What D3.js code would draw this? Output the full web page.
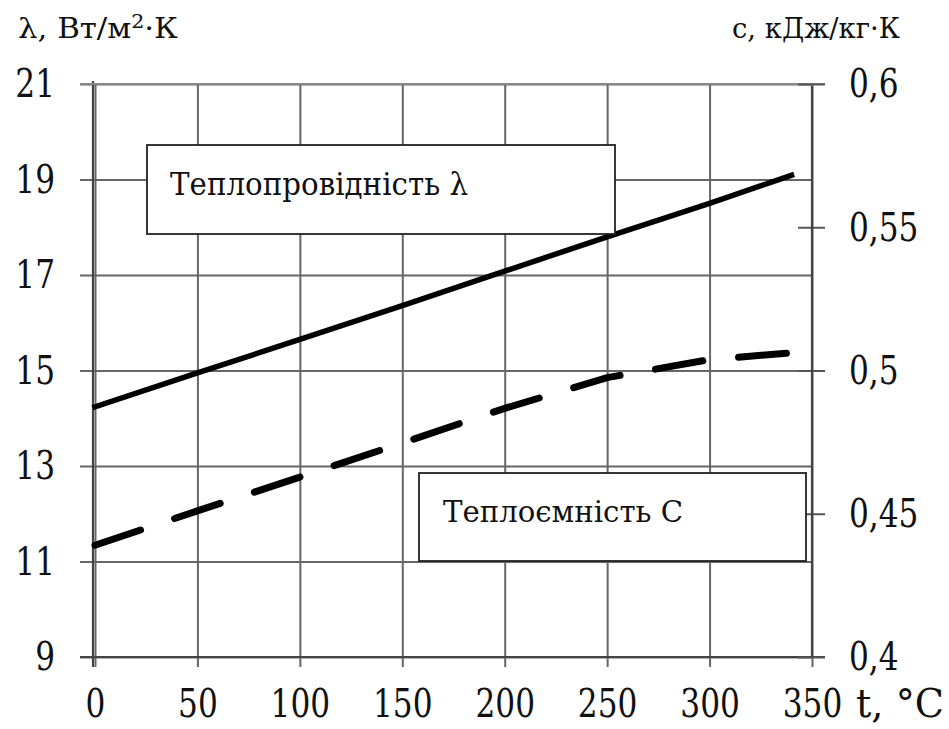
<!DOCTYPE html>
<html>
<head>
<meta charset="utf-8">
<script src="https://cdn.jsdelivr.net/npm/d3@7"></script>
<style>
  body { margin: 0; background: #fff; }
  svg text { font-family: "DejaVu Serif", "Liberation Serif", "Noto Serif", serif; }
</style>
</head>
<body>
<div id="chart"></div>
<script>
// data
const temps = [0, 50, 100, 150, 200, 250, 300, 340];
const lambdaVals = [14.24, 14.95, 15.65, 16.36, 17.08, 17.8, 18.5, 19.09];
const heatCapVals = [0.439, 0.451, 0.4628, 0.4747, 0.4868, 0.4975, 0.5038, 0.5062];
const xTicks = [0, 50, 100, 150, 200, 250, 300, 350];
const leftTicks = [9, 11, 13, 15, 17, 19, 21];
const rightTicks = [0.4, 0.45, 0.5, 0.55, 0.6];

const width = 949, height = 729;
const plot = { left: 95, right: 812, top: 84, bottom: 657 };

// DejaVu Serif is wide, so squeeze text horizontally to look like Times
const squeeze = (sel, k) => {
    sel.each(function () {
        const w = this.getComputedTextLength();
        d3.select(this)
            .attr("textLength", w * k)
            .attr("lengthAdjust", "spacingAndGlyphs");
    });
};

const svg = d3.select("#chart")
    .append("svg")
    .attr("width", width)
    .attr("height", height);

const x = d3.scaleLinear().domain([0, 350]).range([plot.left, plot.right]);
const yL = d3.scaleLinear().domain([9, 21]).range([plot.bottom, plot.top]);
const yR = d3.scaleLinear().domain([0.4, 0.6]).range([plot.bottom, plot.top]);

// vertical grid + bottom labels
const xAxis = svg.append("g")
    .attr("transform", "translate(0," + (plot.bottom + 10) + ")")
    .call(d3.axisBottom(x)
        .tickValues(xTicks)
        .tickSize(-(plot.bottom + 10 - plot.top))
        .tickPadding(22)
        .tickFormat(d3.format("d")));
xAxis.select(".domain").remove();
xAxis.selectAll("line").attr("stroke", "#666").attr("stroke-width", 2);

// horizontal grid + left labels
const leftX = 80;
const yAxis = svg.append("g")
    .attr("transform", "translate(" + leftX + ",0)")
    .call(d3.axisLeft(yL)
        .tickValues(leftTicks)
        .tickSize(-(plot.right - leftX))
        .tickPadding(25));
yAxis.select(".domain").remove();
yAxis.selectAll("line").attr("stroke", "#666").attr("stroke-width", 2);

// axis lines
svg.append("line")
    .attr("x1", x(0) - 2).attr("x2", x(0) - 2)
    .attr("y1", yL(21) - 3).attr("y2", plot.bottom + 10)
    .attr("stroke", "#444").attr("stroke-width", 2.2);
svg.append("line")
    .attr("x1", leftX).attr("x2", plot.right + 13)
    .attr("y1", yL(9)).attr("y2", yL(9))
    .attr("stroke", "#444").attr("stroke-width", 2.2);
svg.append("line")
    .attr("x1", leftX).attr("x2", plot.right + 13)
    .attr("y1", yL(21)).attr("y2", yL(21))
    .attr("stroke", "#888").attr("stroke-width", 2.2);

// right axis
const rAxis = svg.append("g")
    .attr("transform", "translate(" + (plot.right - 14) + ",0)")
    .call(d3.axisRight(yR)
        .tickValues(rightTicks)
        .tickSize(27)
        .tickPadding(24)
        .tickFormat(d => String(d).replace(".", ",")));
rAxis.select(".domain").remove();
rAxis.selectAll("line").attr("stroke", "#555").attr("stroke-width", 2);
svg.append("line")
    .attr("x1", plot.right).attr("x2", plot.right)
    .attr("y1", yR(0.6) + 2).attr("y2", yR(0.4))
    .attr("stroke", "#444").attr("stroke-width", 2.2);

const tickTexts = svg.selectAll(".tick text")
    .attr("fill", "#111")
    .style("font-size", "40px");
squeeze(tickTexts, 0.78);

// series
const lambdaLine = d3.line()
    .x((d, i) => x(temps[i]))
    .y(d => yL(d));
svg.append("path")
    .datum(lambdaVals)
    .attr("fill", "none")
    .attr("stroke", "#000")
    .attr("stroke-width", 5.5)
    .attr("stroke-linecap", "square")
    .attr("d", lambdaLine);

const heatLine = d3.line()
    .x((d, i) => x(temps[i]))
    .y(d => yR(d));
svg.append("path")
    .datum(heatCapVals)
    .attr("fill", "none")
    .attr("stroke", "#000")
    .attr("stroke-width", 7)
    .attr("stroke-linecap", "round")
    .attr("stroke-dasharray", "48 36")
    .attr("d", heatLine);

// label boxes
svg.append("rect")
    .attr("x", 147).attr("y", 145).attr("width", 468).attr("height", 89)
    .attr("fill", "#fff").attr("stroke", "#222").attr("stroke-width", 1.8);
svg.append("text")
    .attr("x", 170).attr("y", 195)
    .style("font-size", "32px").attr("fill", "#111")
    .attr("textLength", 298).attr("lengthAdjust", "spacingAndGlyphs")
    .text("Теплопровідність λ");

svg.append("rect")
    .attr("x", 419).attr("y", 473).attr("width", 387).attr("height", 88)
    .attr("fill", "#fff").attr("stroke", "#222").attr("stroke-width", 1.8);
svg.append("text")
    .attr("x", 443).attr("y", 522)
    .style("font-size", "30px").attr("fill", "#111")
    .attr("textLength", 240).attr("lengthAdjust", "spacingAndGlyphs")
    .text("Теплоємність С");

// axis titles
const leftTitle = svg.append("text")
    .attr("x", 18).attr("y", 38)
    .style("font-size", "27px").attr("fill", "#111")
    .attr("textLength", 160).attr("lengthAdjust", "spacingAndGlyphs");
leftTitle.append("tspan").text("λ, Вт/м");
leftTitle.append("tspan").attr("dy", -10).style("font-size", "18px").text("2");
leftTitle.append("tspan").attr("dy", 10).text("·К");

svg.append("text")
    .attr("x", 900).attr("y", 38)
    .attr("text-anchor", "end")
    .style("font-size", "27px").attr("fill", "#111")
    .attr("textLength", 168).attr("lengthAdjust", "spacingAndGlyphs")
    .text("с, кДж/кг·К");

svg.append("text")
    .attr("x", 856).attr("y", 717)
    .style("font-size", "40px").attr("fill", "#111")
    .attr("textLength", 88).attr("lengthAdjust", "spacingAndGlyphs")
    .text("t, °C");
</script>
</body>
</html>
